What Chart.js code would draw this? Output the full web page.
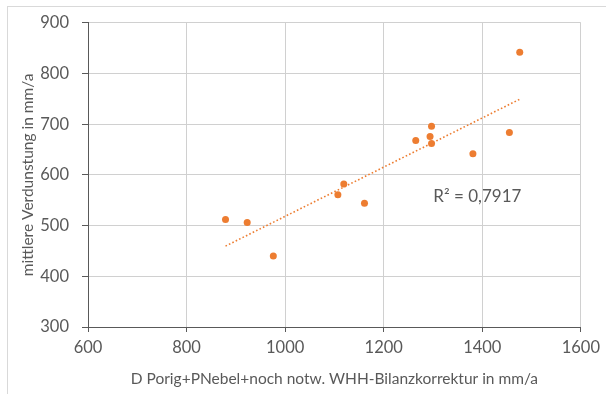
<!DOCTYPE html>
<html>
<head>
<meta charset="utf-8">
<script src="https://cdn.jsdelivr.net/npm/chart.js@4/dist/chart.umd.min.js"></script>
<style>
  html, body { margin: 0; padding: 0; background: #fff; }
  #wrap { width: 606px; height: 394px; position: relative; }
</style>
</head>
<body>
<div id="wrap"><canvas id="c" width="606" height="394"></canvas></div>
<script>
// Bilanzwerte (x) und mittlere Verdunstung (y), je Gebiet in mm/a
const bilanzWerte = [879, 923, 976, 1107, 1119, 1161, 1265, 1294, 1297, 1297, 1381, 1455, 1476];
const verdunstung = [512, 506, 440, 561, 582, 544, 668, 676, 696, 662, 642, 684, 842];

const xTicks = [600, 800, 1000, 1200, 1400, 1600];
const yTicks = [300, 400, 500, 600, 700, 800, 900];

const xTitle = 'D Porig+PNebel+noch notw. WHH-Bilanzkorrektur in mm/a';
const yTitle = 'mittlere Verdunstung in mm/a';
const r2Label = 'R² = 0,7917';
const r2Anchor = [1390, 558];   // in Achsenwerten (x, y)

const ORANGE = '#ED7D31';
const TEXT = '#595959';
const FONT = 'Lato';

// lineare Regression der Messpunkte
function linearFit(xs, ys) {
  const n = xs.length;
  const mx = xs.reduce((a, b) => a + b, 0) / n;
  const my = ys.reduce((a, b) => a + b, 0) / n;
  let sxy = 0, sxx = 0;
  for (let i = 0; i < n; i++) {
    sxy += (xs[i] - mx) * (ys[i] - my);
    sxx += (xs[i] - mx) * (xs[i] - mx);
  }
  const m = sxy / sxx;
  return { m, b: my - m * mx };
}
const fit = linearFit(bilanzWerte, verdunstung);
const xMin = Math.min(...bilanzWerte), xMax = Math.max(...bilanzWerte);
const trend = [
  { x: xMin, y: fit.m * xMin + fit.b },
  { x: xMax, y: fit.m * xMax + fit.b }
];

const points = bilanzWerte.map((x, i) => ({ x, y: verdunstung[i] }));

// Rahmen um die Grafik und Bestimmtheitsmaß als Beschriftung
const decor = {
  id: 'decor',
  beforeDraw(chart) {
    const ctx = chart.ctx;
    ctx.save();
    ctx.strokeStyle = '#d9d9d9';
    ctx.lineWidth = 1;
    ctx.strokeRect(7.5, 6.5, 800, 600);
    ctx.restore();
  },
  afterDatasetsDraw(chart) {
    const ctx = chart.ctx;
    const xs = chart.scales.x, ys = chart.scales.y;
    ctx.save();
    ctx.font = `17px ${FONT}`;
    ctx.fillStyle = TEXT;
    ctx.textAlign = 'center';
    ctx.textBaseline = 'middle';
    ctx.fillText(r2Label, xs.getPixelForValue(r2Anchor[0]), ys.getPixelForValue(r2Anchor[1]));
    ctx.restore();
  }
};

new Chart(document.getElementById('c'), {
  type: 'scatter',
  data: {
    datasets: [
      {
        data: points,
        backgroundColor: ORANGE,
        borderWidth: 0,
        pointRadius: 3.5,
        pointHoverRadius: 3.5,
        order: 1
      },
      {
        type: 'line',
        data: trend,
        borderColor: ORANGE,
        borderWidth: 1.6,
        borderDash: [1.6, 2.2],
        pointRadius: 0,
        fill: false,
        order: 0
      }
    ]
  },
  options: {
    responsive: false,
    animation: false,
    events: [],
    layout: { padding: { top: 22, right: 24, left: 0, bottom: 0 } },
    plugins: { legend: { display: false }, tooltip: { enabled: false } },
    scales: {
      x: {
        type: 'linear',
        min: xTicks[0],
        max: xTicks[xTicks.length - 1],
        afterBuildTicks(s) { s.ticks = xTicks.map(v => ({ value: v })); },
        afterFit(s) { s.height = 67; },
        grid: { color: '#d0d0d0', tickColor: '#595959', tickLength: 5 },
        border: { color: '#595959', width: 1 },
        ticks: {
          color: TEXT,
          font: { family: FONT, size: 16.5 },
          padding: 6,
          maxRotation: 0,
          callback: v => String(v)
        },
        title: {
          display: true,
          text: xTitle,
          color: TEXT,
          font: { family: FONT, size: 15.5 },
          padding: { top: 0, bottom: 6 }
        }
      },
      y: {
        type: 'linear',
        min: yTicks[0],
        max: yTicks[yTicks.length - 1],
        afterBuildTicks(s) { s.ticks = yTicks.map(v => ({ value: v })); },
        afterFit(s) { s.width = 88; },
        grid: { color: '#d0d0d0', tickColor: '#595959', tickLength: 6 },
        border: { color: '#595959', width: 1 },
        ticks: {
          color: TEXT,
          font: { family: FONT, size: 16.5 },
          padding: 13,
          callback: v => String(v)
        },
        title: {
          display: true,
          text: yTitle,
          color: TEXT,
          font: { family: FONT, size: 15.5 },
          padding: { top: 19, bottom: 0 }
        }
      }
    }
  },
  plugins: [decor]
});
</script>
</body>
</html>
